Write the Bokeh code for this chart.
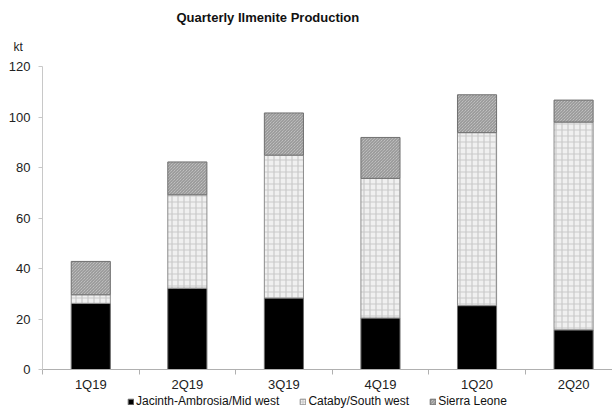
from bokeh.plotting import figure
from bokeh.layouts import column
from bokeh.models import (ColumnDataSource, Range1d, FixedTicker, Legend,
                          LegendItem, LinearAxis, Title)
from bokeh.embed import file_html
from bokeh.resources import INLINE

# Quarterly ilmenite production by operation (kt)
quarters = ["1Q19", "2Q19", "3Q19", "4Q19", "1Q20", "2Q20"]
jacinth = [26.2, 32.2, 28.3, 20.4, 25.3, 15.7]
cataby = [3.4, 37.0, 56.6, 55.3, 68.5, 82.3]
sierra = [13.2, 13.0, 16.7, 16.2, 15.0, 8.7]
series_names = ["Jacinth-Ambrosia/Mid west", "Cataby/South west", "Sierra Leone"]

idx = list(range(len(quarters)))
b1 = jacinth
b2 = [a + b for a, b in zip(jacinth, cataby)]
b3 = [a + b for a, b in zip(b2, sierra)]

src = ColumnDataSource(dict(x=idx, z=[0] * len(idx), b1=b1, b2=b2, b3=b3))

FONT = "Liberation Sans"
W = 0.405

# fill / hatch styling per series
STYLES = [
    dict(fill_color="black", line_color="#6e6e6e", line_width=1),
    dict(fill_color="#f0f0f0", line_color="#8c8c8c", line_width=1,
         hatch_pattern="cross", hatch_color="#cacaca", hatch_scale=6,
         hatch_weight=1.2),
    dict(fill_color="#d2d2d2", line_color="#707070", line_width=1,
         hatch_pattern="left_diagonal_line", hatch_color="#8a8a8a",
         hatch_scale=3, hatch_weight=1),
]


def stack(fig):
    """Draw the three stacked series on a figure, bottom to top."""
    return [fig.vbar(x="x", bottom=lo, top=hi, width=W, source=src, **s)
            for (lo, hi), s in zip([("z", "b1"), ("b1", "b2"), ("b2", "b3")],
                                   STYLES)]


p = figure(width=612, height=394, output_backend="svg", toolbar_location=None,
           title=None,
           x_range=Range1d(-0.5, 5.403), y_range=Range1d(0, 120),
           min_border_left=42, min_border_right=0, min_border_top=66,
           min_border_bottom=24, x_axis_type=None, y_axis_type=None)
p.outline_line_color = None
p.background_fill_color = "white"
p.border_fill_color = "white"
stack(p)

# x axis: labels under each quarter, ticks between quarters
xaxis = LinearAxis(ticker=FixedTicker(ticks=idx,
                                      minor_ticks=[i - 0.5 for i in idx] + [5.5]),
                   major_label_overrides={i: q for i, q in zip(idx, quarters)})
xaxis.axis_line_color = "#b0b0b0"
xaxis.major_tick_line_color = None
xaxis.major_tick_out = 0
xaxis.minor_tick_line_color = "#b0b0b0"
xaxis.minor_tick_out = 5
xaxis.minor_tick_in = 0
xaxis.major_label_standoff = 2
xaxis.major_label_text_font = FONT
xaxis.major_label_text_font_size = "13px"
xaxis.major_label_text_color = "#222222"
p.add_layout(xaxis, "below")

yaxis = LinearAxis(ticker=FixedTicker(ticks=[0, 20, 40, 60, 80, 100, 120]))
yaxis.axis_line_color = "#c8c8c8"
yaxis.major_tick_line_color = "#c8c8c8"
yaxis.major_tick_out = 4
yaxis.major_tick_in = 0
yaxis.minor_tick_line_color = None
yaxis.major_label_standoff = 8
yaxis.major_label_text_font = FONT
yaxis.major_label_text_font_size = "13px"
yaxis.major_label_text_color = "#222222"
p.add_layout(yaxis, "left")

p.ygrid.ticker = FixedTicker(ticks=[20, 40, 60, 80, 100, 120])
p.ygrid.grid_line_color = "#dadada"
p.ygrid.grid_line_width = 1.5
p.xgrid.grid_line_color = None

# unit label sits just above the frame, chart title above that
p.add_layout(Title(text="kt", align="left", offset=-29, standoff=26,
                   text_font=FONT, text_font_style="normal",
                   text_font_size="12px", text_color="#222222"), "above")
p.add_layout(Title(text="Quarterly Ilmenite Production", align="left",
                   offset=134, standoff=0, text_font=FONT,
                   text_font_style="bold", text_font_size="13px",
                   text_color="#111111"), "above")

# legend strip under the chart; its y window lies above every bar so only
# the legend keys show
lg = figure(width=612, height=14, output_backend="svg", toolbar_location=None,
            title=None, x_range=Range1d(0, 1), y_range=Range1d(1000, 1001),
            min_border=0, x_axis_type=None, y_axis_type=None)
lg.outline_line_color = None
lg.xgrid.grid_line_color = None
lg.ygrid.grid_line_color = None
keys = stack(lg)
legend = Legend(items=[LegendItem(label=n, renderers=[r])
                       for n, r in zip(series_names, keys)],
                orientation="horizontal", location=(85, 0),
                glyph_width=7, glyph_height=7, label_standoff=2, spacing=20,
                padding=0, margin=0, border_line_color=None,
                background_fill_alpha=0, label_text_font=FONT,
                label_text_font_size="12px", label_text_color="#111111",
                label_height=12)
lg.add_layout(legend, "center")

open("out.html", "w").write(file_html(column(p, lg, spacing=0), INLINE))
